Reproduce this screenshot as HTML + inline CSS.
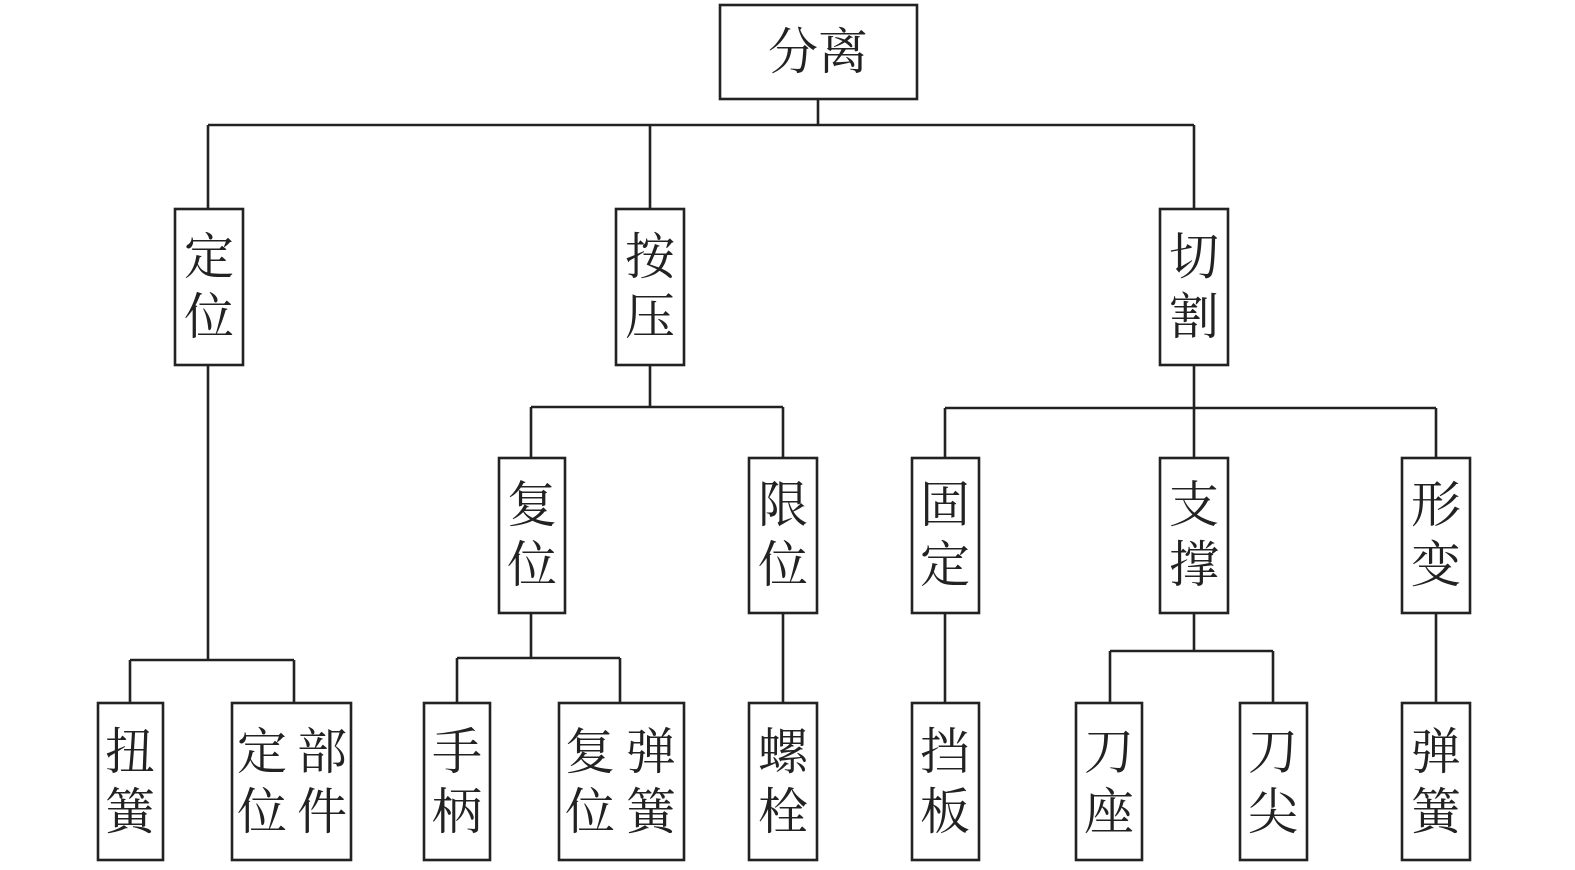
<!DOCTYPE html>
<html><head><meta charset="utf-8"><style>
html,body{margin:0;padding:0;background:#fff;}
svg{display:block;}
text{font-family:"Liberation Serif","Noto Serif CJK SC",serif;font-size:50px;fill:#222;text-anchor:middle;dominant-baseline:central;}
</style></head><body>
<svg width="1575" height="870" viewBox="0 0 1575 870" xmlns="http://www.w3.org/2000/svg">
<g fill="none" stroke="#222" stroke-width="2.6">
<!-- lines -->
<path d="M818 99V125M208 125H1194M208 125V209M650 125V209M1194 125V209"/>
<path d="M208 365V660M130 660H294M130 660V703M294 660V703"/>
<path d="M650 365V407M531 407H783M531 407V458M783 407V458"/>
<path d="M531 613V658M457 658H620M457 658V703M620 658V703"/>
<path d="M783 613V703"/>
<path d="M1194 365V458M945 408H1436M945 408V458M1436 408V458"/>
<path d="M945 613V703M1436 613V703"/>
<path d="M1194 613V651M1110 651H1273M1110 651V703M1273 651V703"/>
<!-- boxes -->
<rect x="720" y="5" width="197" height="94"/>
<rect x="175" y="209" width="68" height="156"/>
<rect x="616" y="209" width="68" height="156"/>
<rect x="1160" y="209" width="68" height="156"/>
<rect x="499" y="458" width="66" height="155"/>
<rect x="749" y="458" width="68" height="155"/>
<rect x="912" y="458" width="67" height="155"/>
<rect x="1160" y="458" width="68" height="155"/>
<rect x="1402" y="458" width="68" height="155"/>
<rect x="98" y="703" width="65" height="157"/>
<rect x="232" y="703" width="119" height="157"/>
<rect x="424" y="703" width="66" height="157"/>
<rect x="559" y="703" width="125" height="157"/>
<rect x="749" y="703" width="68" height="157"/>
<rect x="912" y="703" width="67" height="157"/>
<rect x="1076" y="703" width="66" height="157"/>
<rect x="1240" y="703" width="67" height="157"/>
<rect x="1402" y="703" width="68" height="157"/>
</g>
<text x="818" y="52">分离</text>
<text x="209" y="257">定</text><text x="209" y="317">位</text>
<text x="650" y="257">按</text><text x="650" y="317">压</text>
<text x="1194" y="257">切</text><text x="1194" y="317">割</text>
<text x="532" y="505">复</text><text x="532" y="565">位</text>
<text x="783" y="505">限</text><text x="783" y="565">位</text>
<text x="945" y="505">固</text><text x="945" y="565">定</text>
<text x="1194" y="505">支</text><text x="1194" y="565">撑</text>
<text x="1436" y="505">形</text><text x="1436" y="565">变</text>
<text x="130" y="752">扭</text><text x="130" y="812">簧</text>
<text x="262" y="752">定</text><text x="262" y="812">位</text>
<text x="322" y="752">部</text><text x="322" y="812">件</text>
<text x="457" y="752">手</text><text x="457" y="812">柄</text>
<text x="590" y="752">复</text><text x="590" y="812">位</text>
<text x="651" y="752">弹</text><text x="651" y="812">簧</text>
<text x="783" y="752">螺</text><text x="783" y="812">栓</text>
<text x="945" y="752">挡</text><text x="945" y="812">板</text>
<text x="1109" y="752">刀</text><text x="1109" y="812">座</text>
<text x="1273" y="752">刀</text><text x="1273" y="812">尖</text>
<text x="1436" y="752">弹</text><text x="1436" y="812">簧</text>
</svg>
</body></html>
